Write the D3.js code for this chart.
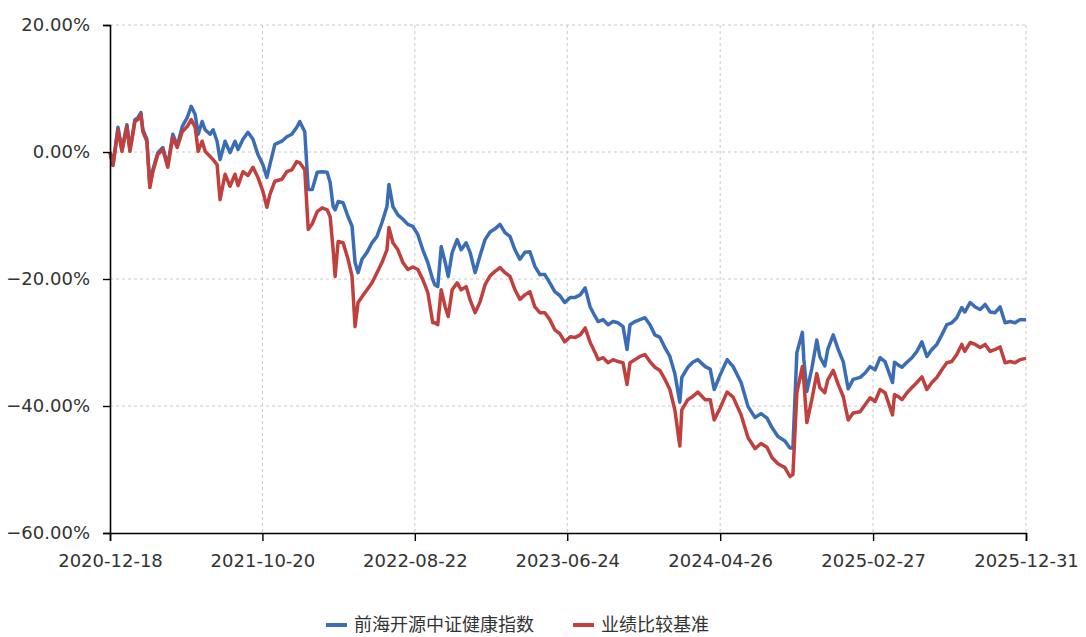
<!DOCTYPE html>
<html>
<head>
<meta charset="utf-8">
<script src="https://cdn.jsdelivr.net/npm/d3@7"></script>
<style>
  body { margin: 0; background: #fff; }
  svg text { fill: #333; }
</style>
</head>
<body>
<svg id="canvas" width="1086" height="637"></svg>
<script>
// dates of the plotted points
const dates = [
  "2020-12-18","2020-12-24","2021-01-03","2021-01-11","2021-01-21","2021-01-27","2021-02-02","2021-02-06","2021-02-12","2021-02-18",
  "2021-02-22","2021-03-02","2021-03-08","2021-03-14","2021-03-24","2021-04-03","2021-04-13","2021-04-23","2021-05-02","2021-05-12",
  "2021-05-22","2021-05-30","2021-06-07","2021-06-13","2021-06-21","2021-06-27","2021-07-07","2021-07-13","2021-07-21","2021-07-27",
  "2021-08-06","2021-08-16","2021-08-26","2021-09-01","2021-09-11","2021-09-21","2021-10-01","2021-10-11","2021-10-21","2021-10-29",
  "2021-11-04","2021-11-14","2021-11-28","2021-12-08","2021-12-18","2021-12-28","2022-01-03","2022-01-13","2022-01-20","2022-01-28",
  "2022-02-07","2022-02-17","2022-02-27","2022-03-05","2022-03-11","2022-03-15","2022-03-21","2022-03-31","2022-04-10","2022-04-18",
  "2022-04-24","2022-04-30","2022-05-08","2022-05-18","2022-05-28","2022-06-07","2022-06-17","2022-06-27","2022-07-01","2022-07-09",
  "2022-07-19","2022-07-29","2022-08-08","2022-08-18","2022-08-28","2022-09-07","2022-09-17","2022-09-27","2022-10-01","2022-10-07",
  "2022-10-14","2022-10-22","2022-10-28","2022-11-05","2022-11-15","2022-11-23","2022-12-03","2022-12-11","2022-12-21","2022-12-31",
  "2023-01-10","2023-01-20","2023-01-30","2023-02-09","2023-02-19","2023-03-01","2023-03-11","2023-03-21","2023-03-31","2023-04-10",
  "2023-04-20","2023-04-30","2023-05-10","2023-05-20","2023-05-30","2023-06-09","2023-06-19","2023-06-30","2023-07-10","2023-07-20",
  "2023-07-30","2023-08-09","2023-08-19","2023-08-25","2023-09-04","2023-09-14","2023-09-24","2023-10-04","2023-10-14","2023-10-22",
  "2023-10-28","2023-11-07","2023-11-17","2023-11-27","2023-12-07","2023-12-17","2023-12-27","2024-01-06","2024-01-16","2024-01-26",
  "2024-02-05","2024-02-09","2024-02-21","2024-03-02","2024-03-12","2024-03-27","2024-04-06","2024-04-14","2024-04-26","2024-05-10",
  "2024-05-22","2024-06-07","2024-06-21","2024-07-05","2024-07-17","2024-07-29","2024-08-08","2024-08-20","2024-09-03","2024-09-13",
  "2024-09-19","2024-09-27","2024-10-08","2024-10-11","2024-10-17","2024-10-27","2024-11-06","2024-11-12","2024-11-22","2024-11-28",
  "2024-12-09","2024-12-19","2024-12-29","2025-01-08","2025-01-18","2025-02-01","2025-02-11","2025-02-21","2025-03-03","2025-03-13",
  "2025-03-23","2025-04-07","2025-04-11","2025-04-18","2025-04-26","2025-05-06","2025-05-16","2025-05-26","2025-06-05","2025-06-15",
  "2025-06-25","2025-07-05","2025-07-15","2025-07-25","2025-08-04","2025-08-14","2025-08-24","2025-08-30","2025-09-10","2025-09-20",
  "2025-09-30","2025-10-10","2025-10-20","2025-10-30","2025-11-09","2025-11-19","2025-11-29","2025-12-09","2025-12-19","2025-12-31"
];

// 前海开源中证健康指数 (%)
const fundValues = [
  0.0,-2.1,3.9,0.4,4.3,0.4,3.1,5.1,5.4,6.2,
  3.5,2.0,-5.3,-2.8,-0.1,0.7,-2.1,2.8,1.0,4.0,
  5.4,7.2,5.9,2.8,4.8,3.5,2.8,3.5,1.7,-1.2,
  1.7,-0.1,1.7,0.4,2.0,3.1,2.0,-0.4,-2.0,-4.0,
  -2.0,1.2,1.7,2.4,2.8,3.9,4.8,3.2,-5.9,-5.9,
  -3.2,-3.1,-3.2,-4.8,-8.6,-9.1,-7.8,-8.0,-10.2,-11.7,
  -17.4,-19.0,-16.9,-15.8,-14.3,-13.3,-11.1,-8.6,-5.1,-8.6,
  -9.9,-10.6,-11.4,-11.7,-13.0,-15.4,-17.4,-20.1,-20.9,-21.2,
  -14.9,-17.4,-19.6,-15.8,-13.8,-15.4,-14.3,-15.8,-19.0,-16.3,
  -13.8,-12.6,-12.1,-11.4,-12.7,-13.3,-15.4,-16.9,-15.8,-15.7,
  -18.0,-19.3,-19.3,-20.6,-22.0,-22.6,-23.7,-22.9,-22.9,-22.5,
  -21.4,-24.4,-25.9,-26.7,-26.4,-27.2,-26.7,-26.9,-27.5,-31.1,
  -27.2,-26.7,-26.4,-26.1,-27.2,-28.8,-29.2,-30.8,-32.2,-34.9,
  -39.4,-35.5,-33.9,-33.1,-32.7,-33.8,-34.2,-37.4,-35.1,-32.7,
  -33.8,-36.3,-40.1,-41.8,-41.2,-41.9,-43.4,-44.8,-45.5,-46.6,
  -46.6,-31.6,-28.4,-32.7,-37.7,-34.1,-29.6,-32.2,-33.7,-31.1,
  -28.8,-31.1,-33.0,-37.3,-35.8,-35.5,-34.8,-33.8,-34.3,-32.4,
  -33.0,-36.3,-33.1,-33.5,-33.9,-33.1,-32.4,-31.4,-29.9,-32.2,
  -31.1,-30.3,-28.8,-27.2,-26.9,-26.1,-24.5,-25.2,-23.7,-24.4,
  -24.8,-24.0,-25.2,-25.3,-24.4,-26.9,-26.7,-26.9,-26.4,-26.4
];

// 业绩比较基准 (%)
const benchValues = [
  0.0,-2.1,3.5,0.1,4.0,0.1,2.8,4.8,5.1,5.9,
  3.2,1.7,-5.6,-3.1,-0.4,0.4,-2.4,2.3,0.7,3.2,
  4.0,5.1,3.9,0.1,1.7,0.1,-0.7,-1.2,-2.0,-7.5,
  -3.5,-5.4,-3.5,-5.3,-3.1,-3.7,-2.4,-4.0,-6.2,-8.7,
  -6.7,-4.6,-4.3,-3.1,-2.8,-1.5,-1.7,-2.8,-12.2,-11.3,
  -9.4,-8.8,-9.1,-10.2,-15.4,-19.6,-14.1,-14.3,-16.9,-19.6,
  -27.5,-23.7,-22.8,-21.7,-20.6,-19.0,-17.4,-15.4,-11.9,-14.3,
  -15.4,-17.4,-18.5,-18.1,-18.5,-20.1,-22.1,-26.9,-26.9,-27.2,
  -21.7,-24.4,-25.9,-21.7,-20.6,-21.7,-21.2,-23.3,-25.3,-23.6,
  -20.9,-19.5,-18.8,-18.2,-19.0,-19.6,-21.7,-23.2,-22.5,-22.0,
  -24.4,-25.3,-25.3,-26.4,-28.0,-28.6,-29.9,-29.1,-29.2,-28.8,
  -27.7,-30.0,-31.6,-32.7,-32.4,-33.2,-32.7,-33.0,-33.2,-36.6,
  -33.2,-32.7,-32.2,-31.9,-33.0,-33.9,-34.4,-35.8,-37.4,-40.6,
  -46.3,-40.6,-39.0,-38.5,-37.8,-39.0,-39.0,-42.2,-40.3,-37.8,
  -38.6,-41.4,-45.0,-46.7,-45.9,-46.5,-48.1,-49.1,-49.7,-51.1,
  -50.8,-37.9,-33.8,-36.1,-42.6,-39.0,-34.9,-37.1,-37.9,-35.9,
  -34.4,-36.6,-38.5,-42.2,-41.1,-40.9,-39.8,-38.7,-39.3,-37.4,
  -37.9,-41.4,-38.2,-38.5,-39.0,-37.9,-37.1,-36.3,-35.4,-37.4,
  -36.3,-35.5,-34.3,-33.2,-33.0,-31.9,-30.3,-31.4,-30.0,-30.3,
  -30.8,-30.3,-31.4,-31.1,-30.7,-33.2,-33.0,-33.2,-32.7,-32.5
];

const seriesNames = ["前海开源中证健康指数", "业绩比较基准"];
const seriesColors = ["#3a6db5", "#c0403d"];
const xTickLabels = ["2020-12-18","2021-10-20","2022-08-22","2023-06-24","2024-04-26","2025-02-27","2025-12-31"];
const yTickValues = [20, 0, -20, -40, -60];

const parse = d3.timeParse("%Y-%m-%d");
const svg = d3.select("#canvas");
const plotLeft = 110, plotRight = 1026, plotTop = 25, plotBottom = 533;

const x = d3.scaleTime()
  .domain([parse(xTickLabels[0]), parse(xTickLabels[xTickLabels.length - 1])])
  .range([plotLeft, plotRight]);
const y = d3.scaleLinear().domain([-60, 20]).range([plotBottom, plotTop]);

const font = "'DejaVu Sans', sans-serif";

// grid
const grid = svg.append("g");
grid.selectAll("line.h")
  .data(yTickValues.filter(v => v !== -60))
  .join("line")
  .attr("x1", plotLeft).attr("x2", plotRight)
  .attr("y1", d => y(d)).attr("y2", d => y(d))
  .attr("stroke", "#c8c8c8").attr("stroke-dasharray", "3,3");
grid.selectAll("line.v")
  .data(xTickLabels.slice(1))
  .join("line")
  .attr("x1", d => x(parse(d))).attr("x2", d => x(parse(d)))
  .attr("y1", plotTop).attr("y2", plotBottom)
  .attr("stroke", "#c8c8c8").attr("stroke-dasharray", "3,3");

// series
const line = d3.line()
  .x((d, i) => x(parse(dates[i])))
  .y(d => y(d));

[fundValues, benchValues].forEach((vals, i) => {
  svg.append("path")
    .datum(vals)
    .attr("d", line)
    .attr("fill", "none")
    .attr("stroke", seriesColors[i])
    .attr("stroke-width", 3.5)
    .attr("stroke-linejoin", "round");
});

// axes
const yAxis = svg.append("g")
  .attr("transform", `translate(${plotLeft},0)`)
  .call(d3.axisLeft(y).tickValues(yTickValues).tickSize(7).tickPadding(13)
    .tickFormat(d => d3.format(".2f")(d) + "%"));
const xAxis = svg.append("g")
  .attr("transform", `translate(0,${plotBottom})`)
  .call(d3.axisBottom(x).tickValues(xTickLabels.map(parse)).tickSize(8).tickPadding(13)
    .tickFormat(d3.timeFormat("%Y-%m-%d")));

[yAxis, xAxis].forEach(g => {
  g.select(".domain").attr("stroke", "#000").attr("stroke-width", 1.6);
  g.selectAll(".tick line").attr("stroke", "#000").attr("stroke-width", 1.4);
  g.selectAll("text").attr("font-family", font).attr("font-size", 18).attr("fill", "#333");
});

// legend
const legend = svg.append("g").attr("transform", "translate(0,625)");
const legendX = [326, 573];
seriesNames.forEach((name, i) => {
  legend.append("line")
    .attr("x1", legendX[i]).attr("x2", legendX[i] + 21)
    .attr("y1", 0).attr("y2", 0)
    .attr("stroke", seriesColors[i]).attr("stroke-width", 4);
  legend.append("text")
    .attr("x", legendX[i] + 28).attr("y", 6)
    .attr("font-family", "'Noto Sans CJK SC', sans-serif")
    .attr("font-size", 18)
    .attr("fill", "#333")
    .text(name);
});
</script>
</body>
</html>
